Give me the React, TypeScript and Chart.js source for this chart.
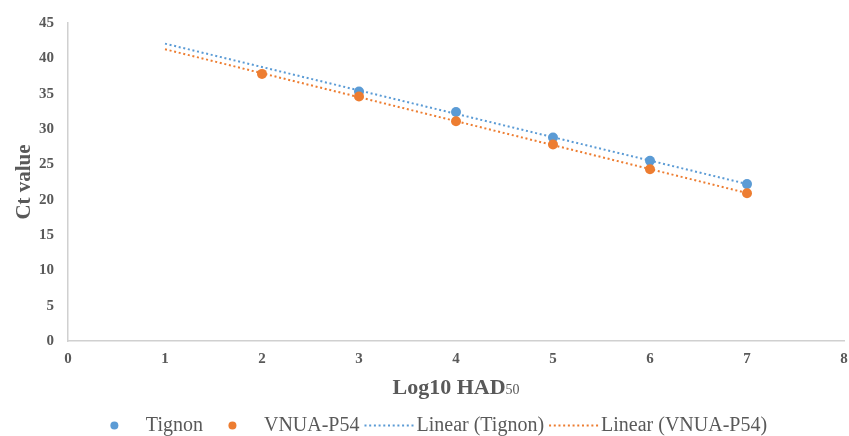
import { useEffect, useRef } from "react";
import { Chart, registerables } from "chart.js";

Chart.register(...registerables);

// ---- data ----
const seriesNames = ["Tignon", "VNUA-P54"];
const tignonLog = [3, 4, 5, 6, 7];
const tignonCt = [35.3, 32.4, 28.8, 25.5, 22.2];
const vnuaLog = [2, 3, 4, 5, 6, 7];
const vnuaCt = [37.8, 34.6, 31.1, 27.8, 24.3, 20.9];
const trendRange = [1, 7];
const xTickRange = [0, 8, 1];
const yTickRange = [0, 45, 5];
const xTitleMain = "Log10 HAD";
const xTitleSub = "50";
const yTitle = "Ct value";

const BLUE = "#5B9BD5";
const ORANGE = "#ED7D31";
const TEXT = "#595959";
const AXIS = "#d0d0d0";
const FONT = "'Liberation Serif', 'Times New Roman', serif";

function fit(xs: number[], ys: number[]) {
  const n = xs.length;
  const mx = xs.reduce((a, b) => a + b, 0) / n;
  const my = ys.reduce((a, b) => a + b, 0) / n;
  let sxy = 0, sxx = 0;
  for (let i = 0; i < n; i++) {
    sxy += (xs[i] - mx) * (ys[i] - my);
    sxx += (xs[i] - mx) * (xs[i] - mx);
  }
  const m = sxy / sxx;
  const b = my - m * mx;
  return trendRange.map((x) => ({ x, y: m * x + b }));
}

const toPts = (xs: number[], ys: number[]) => xs.map((x, i) => ({ x, y: ys[i] }));

const DOT_DASH = [2, 2.7];

const overlayPlugin = {
  id: "overlay",
  afterDraw(chart: any) {
    const ctx: CanvasRenderingContext2D = chart.ctx;
    const area = chart.chartArea;
    ctx.save();
    // x title with subscript
    ctx.fillStyle = TEXT;
    ctx.textBaseline = "alphabetic";
    ctx.textAlign = "left";
    const mainFont = `bold 22px ${FONT}`;
    const subFont = `14px ${FONT}`;
    ctx.font = mainFont;
    const w1 = ctx.measureText(xTitleMain).width;
    ctx.font = subFont;
    const w2 = ctx.measureText(xTitleSub).width;
    const cx = (area.left + area.right) / 2;
    const x0 = cx - (w1 + w2) / 2;
    const base = area.bottom + 53;
    ctx.font = mainFont;
    ctx.fillText(xTitleMain, x0, base);
    ctx.font = subFont;
    ctx.fillText(xTitleSub, x0 + w1, base);

    // legend
    ctx.font = `20px ${FONT}`;
    ctx.textBaseline = "middle";
    const items = chart.data.datasets.map((ds: any) => ({
      label: ds.label,
      color: ds.borderColor,
      line: !!ds.showLine,
      tw: ctx.measureText(ds.label).width,
    }));
    const symW = 49;
    const itemGap = 5;
    let total = 0;
    items.forEach((it: any, i: number) => {
      total += symW + (it.line ? 3 : 7) + it.tw + (i > 0 ? itemGap : 0);
    });
    let x = chart.width / 2 + 4 - total / 2;
    const ly = area.bottom + 84.5;
    items.forEach((it: any, i: number) => {
      if (i > 0) x += itemGap;
      if (it.line) {
        ctx.beginPath();
        ctx.setLineDash(DOT_DASH);
        ctx.lineWidth = 2;
        ctx.strokeStyle = it.color;
        ctx.moveTo(x, ly);
        ctx.lineTo(x + symW, ly);
        ctx.stroke();
        ctx.setLineDash([]);
        x += symW + 3;
      } else {
        ctx.beginPath();
        ctx.fillStyle = it.color;
        ctx.arc(x + symW / 2, ly, 4, 0, Math.PI * 2);
        ctx.fill();
        x += symW + 7;
      }
      ctx.fillStyle = TEXT;
      ctx.fillText(it.label, x, ly);
      x += it.tw;
    });
    ctx.restore();
  },
};

export default function App() {
  const ref = useRef<HTMLCanvasElement | null>(null);
  useEffect(() => {
    if (!ref.current) return;
    const chart = new Chart(ref.current, {
      type: "scatter",
      data: {
        datasets: [
          {
            label: seriesNames[0],
            data: toPts(tignonLog, tignonCt),
            backgroundColor: BLUE,
            borderColor: BLUE,
            pointRadius: 5,
            borderWidth: 0,
            order: 2,
          },
          {
            label: seriesNames[1],
            data: toPts(vnuaLog, vnuaCt),
            backgroundColor: ORANGE,
            borderColor: ORANGE,
            pointRadius: 5,
            borderWidth: 0,
            order: 1,
          },
          {
            label: `Linear (${seriesNames[0]})`,
            data: fit(tignonLog, tignonCt),
            borderColor: BLUE,
            backgroundColor: BLUE,
            showLine: true,
            pointRadius: 0,
            borderWidth: 2,
            borderDash: DOT_DASH,
            order: 3,
          },
          {
            label: `Linear (${seriesNames[1]})`,
            data: fit(vnuaLog, vnuaCt),
            borderColor: ORANGE,
            backgroundColor: ORANGE,
            showLine: true,
            pointRadius: 0,
            borderWidth: 2,
            borderDash: DOT_DASH,
            order: 4,
          },
        ],
      },
      options: {
        animation: false,
        responsive: true,
        maintainAspectRatio: false,
        layout: { padding: { top: 21, right: 5, bottom: 70, left: 0 } },
        plugins: {
          legend: { display: false },
          tooltip: { enabled: false },
        },
        scales: {
          x: {
            type: "linear",
            min: xTickRange[0],
            max: xTickRange[1],
            ticks: {
              stepSize: xTickRange[2],
              color: TEXT,
              font: { family: FONT, size: 15, weight: "bold" },
              padding: 9,
            },
            grid: { display: false, drawTicks: false },
            border: { display: true, color: AXIS, width: 1.5 },
            afterFit: (s: any) => {
              s.height = 25;
              s.paddingRight = 0;
              s.paddingLeft = 0;
            },
          },
          y: {
            type: "linear",
            min: yTickRange[0],
            max: yTickRange[1],
            ticks: {
              stepSize: yTickRange[2],
              color: TEXT,
              font: { family: FONT, size: 15, weight: "bold" },
              padding: 14,
            },
            grid: { display: false, drawTicks: false },
            border: { display: true, color: AXIS, width: 1.5 },
            title: {
              display: true,
              text: yTitle,
              color: TEXT,
              font: { family: FONT, size: 21, weight: "bold" },
              padding: { top: 12, bottom: 0 },
            },
            afterFit: (s: any) => {
              s.width = 68;
            },
          },
        },
      },
      plugins: [overlayPlugin],
    } as any);
    return () => chart.destroy();
  }, []);
  return (
    <div style={{ position: "absolute", left: 0, top: 0, width: 849, height: 436, background: "#fff" }}>
      <canvas ref={ref} />
    </div>
  );
}
